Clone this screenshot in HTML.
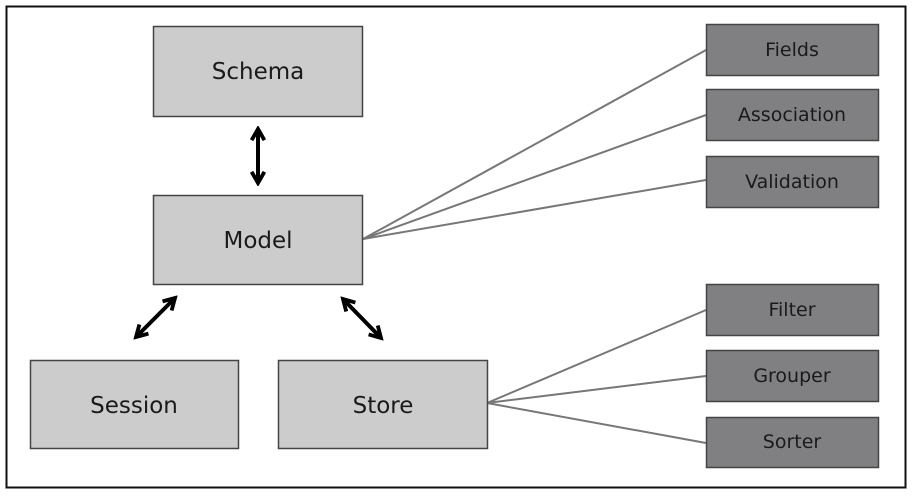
<!DOCTYPE html>
<html><head><style>
html,body{margin:0;padding:0;background:#fff;}
svg{display:block;}
text{font-family:"DejaVu Sans","Liberation Sans",sans-serif;fill:#1a1a1a;text-anchor:middle;dominant-baseline:central;}
</style></head><body>
<svg width="912" height="497" viewBox="0 0 912 497" xmlns="http://www.w3.org/2000/svg">
<defs>
<marker id="ah" viewBox="0 0 10 10" refX="8" refY="5" markerWidth="4" markerHeight="4" orient="auto-start-reverse">
<path d="M1,1 L8,5 L1,9" fill="none" stroke="#000" stroke-width="2.4"/>
</marker>
</defs>
<rect x="6.5" y="6.5" width="899" height="481" fill="#fff" stroke="#111" stroke-width="2"/>
<g stroke="#777" stroke-width="2" fill="none">
<line x1="363" y1="239" x2="706" y2="50"/>
<line x1="363" y1="239" x2="706" y2="115"/>
<line x1="363" y1="239" x2="706" y2="180"/>
<line x1="487" y1="403" x2="706" y2="310"/>
<line x1="487" y1="403" x2="706" y2="376"/>
<line x1="487" y1="403" x2="706" y2="443"/>
</g>
<g stroke="#000" stroke-width="4" fill="none" marker-start="url(#ah)" marker-end="url(#ah)">
<line x1="258" y1="129" x2="258" y2="183"/>
<line x1="175" y1="298" x2="136" y2="337"/>
<line x1="343" y1="299" x2="381" y2="338"/>
</g>
<g fill="#cccccd" stroke="#444" stroke-width="1.5">
<rect x="153.5" y="26.5" width="209" height="90"/>
<rect x="153.5" y="195.5" width="209" height="89"/>
<rect x="30.5" y="360.5" width="208" height="88"/>
<rect x="278.5" y="360.5" width="209" height="88"/>
</g>
<g fill="#808083" stroke="#444" stroke-width="1.5">
<rect x="706.5" y="24.5" width="172" height="51"/>
<rect x="706.5" y="89.5" width="172" height="51"/>
<rect x="706.5" y="156.5" width="172" height="51"/>
<rect x="706.5" y="284.5" width="172" height="51"/>
<rect x="706.5" y="350.5" width="172" height="51"/>
<rect x="706.5" y="417.5" width="172" height="50"/>
</g>
<g font-size="23">
<text x="258" y="72">Schema</text>
<text x="258" y="241">Model</text>
<text x="134" y="406">Session</text>
<text x="383" y="406">Store</text>
</g>
<g font-size="19">
<text x="792" y="50">Fields</text>
<text x="792" y="115">Association</text>
<text x="792" y="182">Validation</text>
<text x="792" y="310">Filter</text>
<text x="792" y="376">Grouper</text>
<text x="792" y="442">Sorter</text>
</g>
</svg>
</body></html>
